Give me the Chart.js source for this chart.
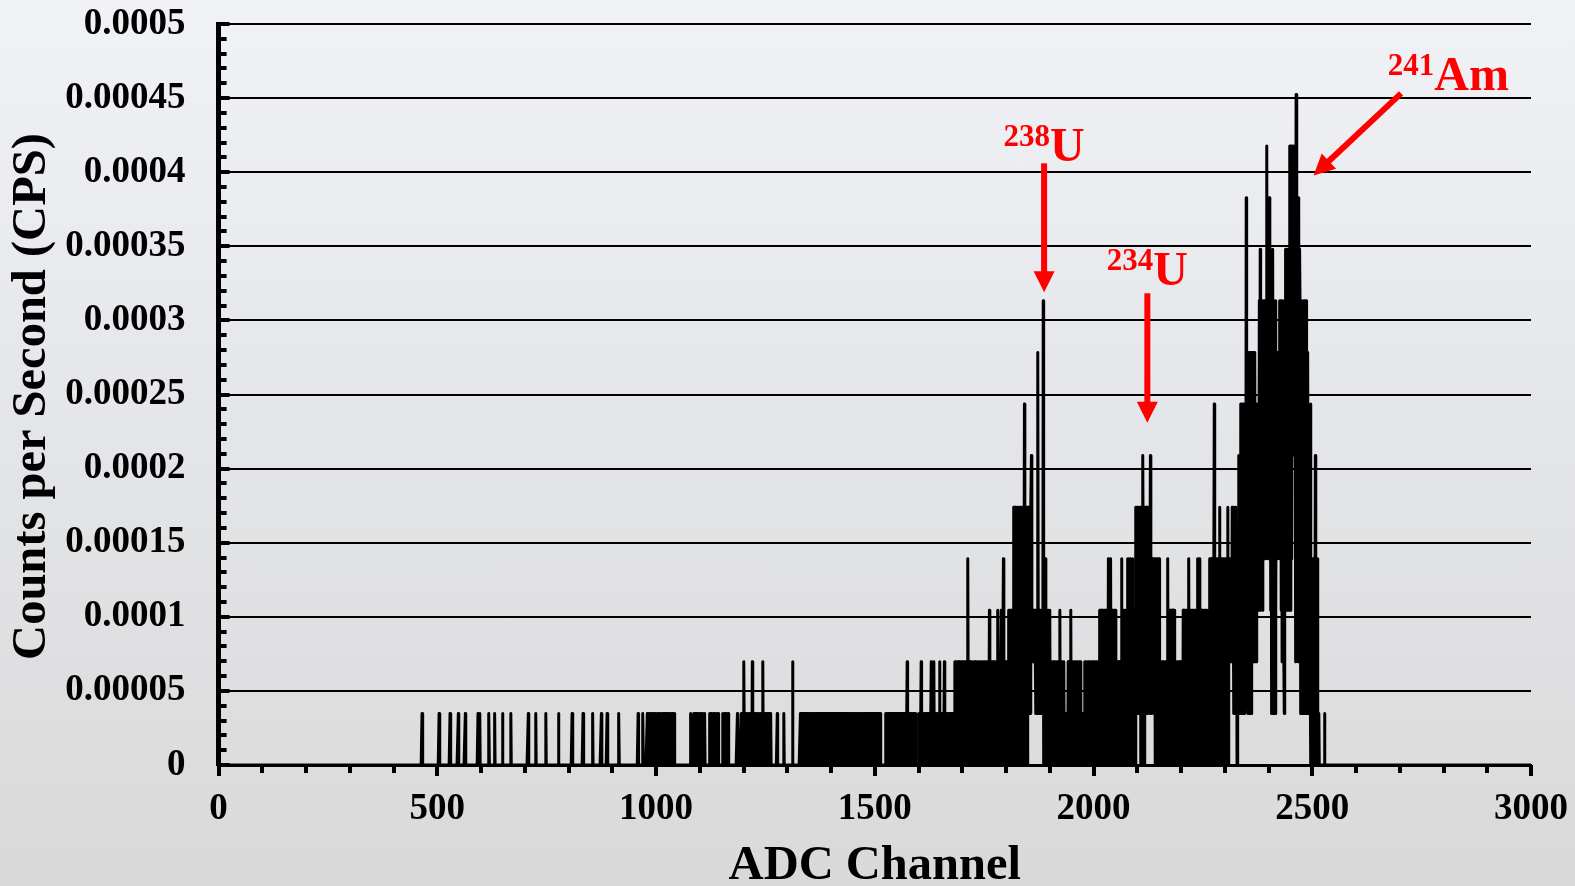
<!DOCTYPE html>
<html>
<head>
<meta charset="utf-8">
<script src="https://cdn.jsdelivr.net/npm/chart.js@4.4.1/dist/chart.umd.min.js"></script>
<style>
html,body{margin:0;padding:0;}
body{width:1575px;height:886px;overflow:hidden;background:linear-gradient(180deg,#f1f2f6 0%,#e4e5e8 50%,#d9d9d9 100%);}
canvas{display:block;}
</style>
</head>
<body>
<canvas id="c" width="1575" height="886"></canvas>
<script>
// ---------- data (counts per ADC channel) ----------
const cpsPerCount = 3.48e-5;          // one recorded count expressed in CPS

// isolated channels below the dense band
const sparseChannels = [465,504,529,548,564,593,597,618,631,649,668,708,725,748,777,808,833,855,875,888,915,959,970,
  980,983,986,989,992,995,998,1001,1004,1007,1010,1013,1016,1019,1022,1025,1028,1031,1034,1037,1041,
  1079,1086,1089,1092,1095,1098,1101,1104,1107,1111,
  1123,1126,1129,1133,1137,1142,1152,1156,1160,1165,1186,
  1195,1198,1201,1206,1209,1212,1215,1218,1220,1223,1226,1229,1232,1235,1238,1241,1244,1247,1250,1253,1256,1259,1262,
  1277,1292,1312];
const sparseCounts = [1,1,1,1,1,1,1,1,1,1,1,1,1,1,1,1,1,1,1,1,1,1,1,
  1,1,1,1,1,1,1,1,1,1,1,1,1,1,1,1,1,1,1,1,1,
  1,1,1,1,1,1,1,1,1,1,
  1,1,1,1,1,1,1,1,1,1,1,
  1,1,2,1,1,1,1,1,2,1,1,1,1,1,1,1,2,1,1,1,1,1,1,
  1,1,2];

// channel-by-channel counts from channel 1330 onwards
const denseStartChannel = 1330;
const denseCounts = [
  1,0,1,0,1,0,0,1,0,1,  0,1,0,0,1,0,1,0,1,0,  1,0,0,1,0,1,0,0,1,0,  1,0,1,0,0,1,0,1,0,1,
  0,1,0,1,0,1,0,1,0,0,  1,0,1,0,1,0,0,1,0,1,  0,1,0,0,1,0,1,0,1,0,  1,0,0,1,0,1,0,1,0,0,
  1,0,1,0,1,0,0,1,0,1,  0,1,0,1,0,0,1,0,1,0,  1,0,1,0,0,1,0,1,0,1,  0,1,0,1,0,0,1,0,1,0,
  1,0,1,0,0,1,0,1,0,1,  0,0,1,0,1,0,1,0,0,1,  0,1,0,1,0,0,1,0,1,0,  1,0,0,1,0,1,0,1,0,0,
  1,0,1,0,1,0,0,1,0,1,  0,1,0,0,1,0,1,0,1,0,  1,0,1,0,0,0,0,0,0,0,  0,0,0,0,0,1,0,1,0,1,
  0,1,0,0,1,0,1,0,1,0,  1,0,1,0,0,1,0,1,0,1,  0,1,0,1,0,0,1,0,1,0,  1,0,0,1,0,1,0,1,0,1,
  0,1,0,0,2,0,1,0,1,0,  1,0,1,0,0,1,0,1,0,1,  0,1,0,1,0,0,0,0,0,0,  0,1,0,1,0,1,2,0,1,0,
  1,0,0,1,0,1,0,1,0,1,  0,1,0,1,0,0,1,0,1,2,  0,1,0,1,0,2,0,1,0,1,  0,1,0,0,1,0,1,0,2,0,
  1,0,1,0,1,0,0,1,0,2,  0,1,0,1,0,1,0,0,1,0,  1,0,1,0,0,1,0,1,0,1,  0,1,0,2,0,2,0,2,0,2,
  0,2,0,2,1,0,2,0,2,0,  2,0,1,2,0,2,0,2,0,1,  0,2,0,4,0,2,0,1,2,0,  2,0,2,0,1,0,2,0,2,0,
  2,1,0,2,0,2,0,2,0,1,  2,0,2,0,2,0,1,2,0,2,  0,2,0,2,1,0,2,0,2,0,  2,0,3,0,2,0,2,1,0,2,
  0,2,0,2,0,1,2,0,2,0,  2,3,0,2,0,2,0,1,2,3,  0,2,0,2,4,0,2,0,2,0,  2,1,0,2,0,2,3,0,3,0,
  3,0,2,3,0,3,0,5,0,5,  0,5,0,4,0,5,0,5,0,5,  0,5,0,4,5,0,5,0,5,0,  5,0,7,0,5,0,4,5,0,5,
  1,5,1,5,1,4,1,5,6,2,  3,2,3,2,3,2,3,2,1,3,  1,3,1,8,1,3,1,3,1,3,  1,3,1,3,1,9,0,3,0,1,
  4,0,3,0,2,0,3,0,1,0,  3,0,2,0,2,1,0,2,0,2,  0,2,0,1,2,0,2,0,2,0,  2,0,1,3,0,2,0,2,0,2,
  0,1,2,0,1,0,1,0,1,0,  1,0,2,0,2,0,1,2,3,0,  2,0,2,0,1,2,0,2,0,2,  0,2,1,0,2,0,2,0,2,0,
  2,0,1,0,1,0,1,0,1,0,  2,0,2,0,2,1,0,2,0,2,  0,2,0,2,1,0,2,0,2,0,  2,0,2,1,0,2,0,2,0,2,
  0,2,0,2,3,0,3,0,3,0,  3,0,2,3,0,3,0,3,0,2,  3,0,3,0,4,0,3,0,3,4,  0,3,0,3,2,0,3,0,3,0,
  3,0,2,0,2,0,2,1,0,2,  0,2,0,1,4,0,2,0,3,3,  0,3,0,3,2,0,3,0,4,0,  4,0,3,0,4,0,3,2,0,4,
  0,3,0,3,0,3,0,5,1,5,  1,5,1,4,1,5,1,5,0,4,  0,5,4,6,3,5,0,5,2,5,  1,5,1,5,1,4,2,5,1,3,
  6,1,4,1,4,2,4,1,4,1,  4,0,4,0,3,0,4,0,2,0,  4,0,2,0,2,1,0,2,0,2,  0,2,0,2,1,0,2,0,2,0,
  4,0,2,0,3,0,3,0,3,0,  3,0,3,0,3,0,2,0,2,1,  0,2,0,2,0,1,2,0,2,0,  2,0,2,1,0,3,0,3,0,3,
  0,3,0,2,3,0,3,0,4,0,  3,0,3,0,2,3,0,3,0,3,  0,3,0,3,0,3,0,2,4,0,  3,0,4,0,3,0,3,0,3,0,
  3,0,3,0,2,3,0,3,0,3,  0,1,0,2,0,4,0,4,0,4,  0,4,0,4,0,4,7,0,4,0,  4,0,4,0,4,0,4,0,5,0,
  4,0,4,0,3,0,4,0,4,0,  4,0,4,0,4,0,4,5,0,4,  2,4,2,4,2,4,2,5,2,4,  1,5,1,4,1,5,1,4,0,1,
  2,4,6,1,6,2,6,7,1,7,  2,7,1,7,3,6,1,6,2,11, 3,6,1,7,2,8,1,8,3,8,  1,8,2,8,3,8,2,7,2,8,
  3,7,2,7,3,6,3,7,3,9,  4,10,3,9,4,8,3,9,4,9, 4,9,5,8,4,9,12,5,9,4, 8,5,11,4,9,3,8,1,9,2,
  10,1,9,2,8,1,9,3,7,4, 8,4,7,5,8,4,9,5,9,3,  9,2,9,3,8,2,1,9,3,10, 10,3,9,4,10,3,10,4,12,5,
  12,3,11,4,12,6,10,7,12,6, 9,7,2,13,4,11,3,11,2,11, 3,10,9,1,9,2,9,1,8,3, 9,1,9,2,8,1,9,2,7,1,
  8,1,4,1,5,2,7,0,0,0,  0,4,0,4,2,4,0,6,0,4,  0,4,0,0,0,1,0,0,0,0,  0,0,0,0,0,0,0,0,1,0
];

const lastChannel = 3000;

// axis ticks
const xTickValues = [0,500,1000,1500,2000,2500,3000];
const xTickLabels = ['0','500','1000','1500','2000','2500','3000'];
const yTickValues = [0,0.00005,0.0001,0.00015,0.0002,0.00025,0.0003,0.00035,0.0004,0.00045,0.0005];
const yTickLabels = ['0','0.00005','0.0001','0.00015','0.0002','0.00025','0.0003','0.00035','0.0004','0.00045','0.0005'];
const xMinorStep = 100;
const yMinorStep = 0.00001;

// titles
const xTitle = 'ADC Channel';
const yTitle = 'Counts per Second (CPS)';

// peak annotations (data coordinates: channel, CPS)
const peakMass   = ['238','234','241'];
const peakSymbol = ['U','U','Am'];
const labelX     = [1887, 2123, 2811];
const labelY     = [4.076e-4, 3.242e-4, 4.558e-4];
const arrowFromX = [1887, 2123, 2703];
const arrowFromY = [4.060e-4, 3.183e-4, 4.532e-4];
const arrowToX   = [1887, 2123, 2503];
const arrowToY   = [3.19e-4, 2.31e-4, 3.978e-4];

// ---------- build series ----------
const counts = new Array(lastChannel + 1).fill(0);
sparseChannels.forEach((ch, i) => { counts[ch] = sparseCounts[i]; });
denseCounts.forEach((c, i) => { counts[denseStartChannel + i] = c; });
const points = counts.map((c, ch) => ({ x: ch, y: c * cpsPerCount }));

const FONT = '"Liberation Serif", "Times New Roman", serif';
const RED = '#ff0000';

function drawArrow(ctx, x1, y1, x2, y2, w, headLen, headW) {
  const ang = Math.atan2(y2 - y1, x2 - x1);
  const bx = x2 - headLen * Math.cos(ang), by = y2 - headLen * Math.sin(ang);
  ctx.strokeStyle = RED; ctx.fillStyle = RED;
  ctx.lineWidth = w; ctx.lineCap = 'butt';
  ctx.beginPath(); ctx.moveTo(x1, y1); ctx.lineTo(bx + Math.cos(ang), by + Math.sin(ang)); ctx.stroke();
  ctx.beginPath();
  ctx.moveTo(x2, y2);
  ctx.lineTo(bx + headW / 2 * Math.sin(ang), by - headW / 2 * Math.cos(ang));
  ctx.lineTo(bx - headW / 2 * Math.sin(ang), by + headW / 2 * Math.cos(ang));
  ctx.closePath(); ctx.fill();
}

const decorations = {
  id: 'decorations',
  afterDraw(chart) {
    const { ctx, chartArea: a } = chart;
    const xs = chart.scales.x, ys = chart.scales.y;
    ctx.save();
    ctx.fillStyle = '#000';
    // x-axis tick marks (outside, below)
    for (let v = 0; v <= 3000; v += xMinorStep) {
      const px = xs.getPixelForValue(v);
      const major = v % 500 === 0;
      ctx.fillRect(Math.round(px) - 2, a.bottom, 4, major ? 11 : 8);
    }
    // y-axis tick marks (inside, to the right)
    for (let i = 0; i <= 50; i++) {
      const py = ys.getPixelForValue(i * yMinorStep);
      const major = i % 5 === 0;
      ctx.fillRect(a.left, Math.round(py) - 2, major ? 11 : 8, 4);
    }
    // axis titles
    ctx.fillStyle = '#000';
    ctx.font = 'bold 48.5px ' + FONT;
    ctx.textAlign = 'center';
    ctx.textBaseline = 'alphabetic';
    ctx.fillText(xTitle, (a.left + a.right) / 2, 879);
    ctx.save();
    ctx.translate(45, (a.top + a.bottom) / 2 + 2);
    ctx.rotate(-Math.PI / 2);
    ctx.fillText(yTitle, 0, 0);
    ctx.restore();
    // annotations
    for (let i = 0; i < peakMass.length; i++) {
      drawArrow(ctx,
        xs.getPixelForValue(arrowFromX[i]), ys.getPixelForValue(arrowFromY[i]),
        xs.getPixelForValue(arrowToX[i]), ys.getPixelForValue(arrowToY[i]),
        6, 21, 21);
      ctx.fillStyle = RED;
      ctx.textAlign = 'left';
      ctx.textBaseline = 'alphabetic';
      ctx.font = 'bold 31px ' + FONT;
      const w1 = ctx.measureText(peakMass[i]).width;
      ctx.font = 'bold 48px ' + FONT;
      const w2 = ctx.measureText(peakSymbol[i]).width;
      const cx = xs.getPixelForValue(labelX[i]);
      const base = ys.getPixelForValue(labelY[i]);
      const left = cx - (w1 + w2) / 2;
      ctx.font = 'bold 31px ' + FONT;
      ctx.fillText(peakMass[i], left, base - 14.5);
      ctx.font = 'bold 48px ' + FONT;
      ctx.fillText(peakSymbol[i], left + w1, base);
    }
    ctx.restore();
  }
};

new Chart(document.getElementById('c').getContext('2d'), {
  type: 'line',
  data: {
    datasets: [{
      data: points,
      borderColor: '#000',
      borderWidth: 3,
      pointRadius: 0,
      tension: 0,
      fill: false,
      borderJoinStyle: 'round',
      borderCapStyle: 'round'
    }]
  },
  options: {
    responsive: false,
    animation: false,
    devicePixelRatio: 1,
    parsing: false,
    normalized: true,
    layout: { padding: { top: 24, right: 44, left: 0, bottom: 0 } },
    plugins: { legend: { display: false }, tooltip: { enabled: false }, title: { display: false } },
    scales: {
      x: {
        type: 'linear', min: 0, max: 3000,
        afterFit(s) { s.height = 121; s.paddingLeft = 0; s.paddingRight = 0; s.paddingTop = 0; s.paddingBottom = 0; },
        afterBuildTicks(s) { s.ticks = xTickValues.map(v => ({ value: v })); },
        ticks: {
          callback: (v, i) => xTickLabels[i],
          font: { family: FONT, size: 37, weight: 'bold' },
          color: '#000', padding: 22, maxRotation: 0, autoSkip: false
        },
        grid: { drawOnChartArea: false, drawTicks: false },
        border: { display: true, color: '#000', width: 3 }
      },
      y: {
        type: 'linear', min: 0, max: 0.0005,
        afterFit(s) { s.width = 218.6; s.paddingLeft = 0; s.paddingRight = 0; s.paddingTop = 0; s.paddingBottom = 0; },
        afterBuildTicks(s) { s.ticks = yTickValues.map(v => ({ value: v })); },
        ticks: {
          callback: (v, i) => yTickLabels[i],
          font: { family: FONT, size: 37, weight: 'bold' },
          color: '#000', padding: 33, autoSkip: false
        },
        grid: { color: '#000', lineWidth: 2, drawTicks: false },
        border: { display: true, color: '#000', width: 5 }
      }
    }
  },
  plugins: [decorations]
});
</script>
</body>
</html>
